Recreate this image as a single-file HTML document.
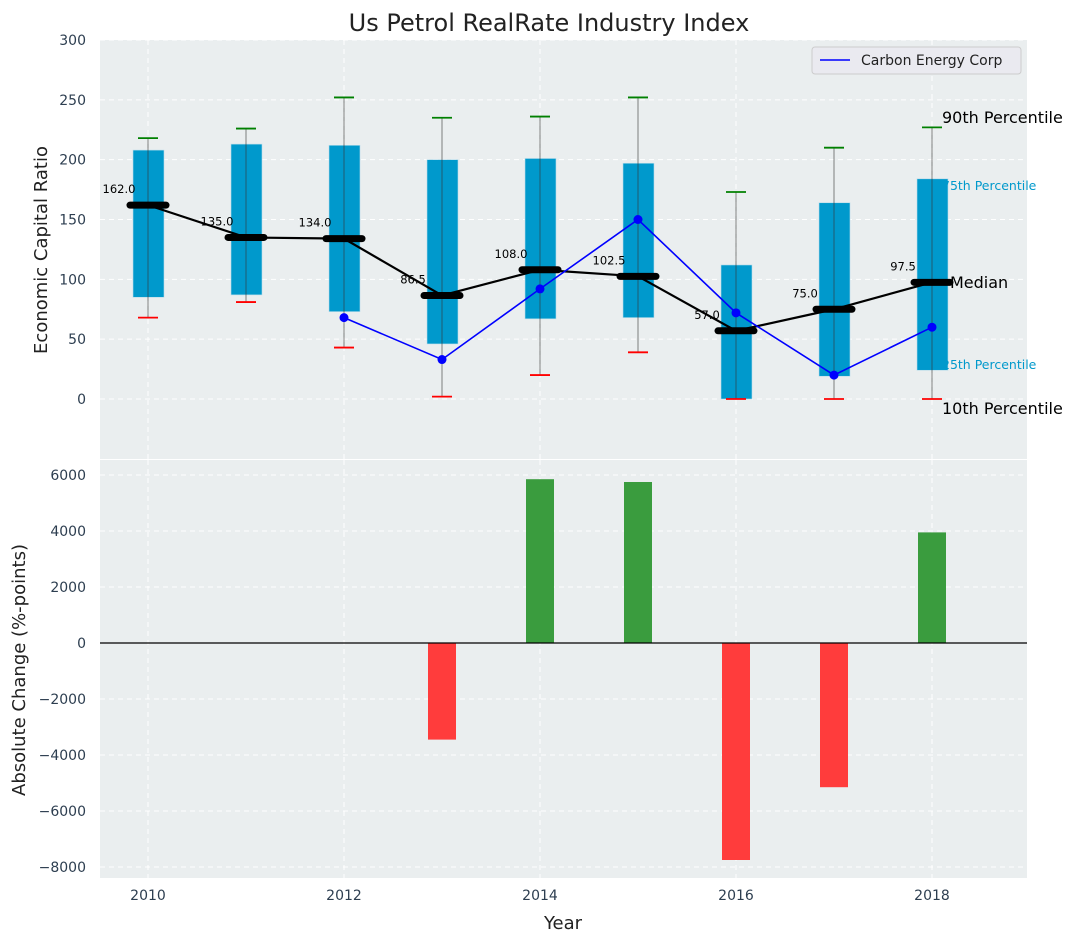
<!DOCTYPE html>
<html><head><meta charset="utf-8"><style>
body{margin:0;background:#fff;}
svg{display:block;font-family:"DejaVu Sans","Liberation Sans",sans-serif;}
</style></head><body>
<svg id="c" width="1077" height="942"></svg>
<script>
const years=[2010,2011,2012,2013,2014,2015,2016,2017,2018];
const q25=[85,87,73,46,67,68,0,19,24];
const q75=[208,213,212,200,201,197,112,164,184];
const p10=[68,81,43,2,20,39,0,0,0];
const p90=[218,226,252,235,236,252,173,210,227];
const medians=[162,135,134,86.5,108,102.5,57,75,97.5];
const carbonYears=[2012,2013,2014,2015,2016,2017,2018];
const carbonVals=[68,33,92,150,72,20,60];
const changeYears=[2013,2014,2015,2016,2017,2018];
const changeVals=[-3450,5850,5750,-7750,-5150,3950];
const topTicks=[0,50,100,150,200,250,300];
const botTicks=[-8000,-6000,-4000,-2000,0,2000,4000,6000];
const xTicks=[2010,2012,2014,2016,2018];

const NS="http://www.w3.org/2000/svg";
const svg=document.getElementById('c');
function el(t,a,p){const e=document.createElementNS(NS,t);for(const k in a)e.setAttribute(k,a[k]);(p||svg).appendChild(e);return e;}
const L=100,R=1027,T1=40,B1=459,T2=460,B2=878;
const x=v=>148+(v-2010)*98;
const y1=v=>399-v*(359/300);
const y2=v=>643-v*(168/6000);

// backgrounds
let bg=el('rect',{x:L,y:T1,width:R-L,height:B1-T1,fill:'#eaeeef'});

let bg2=el('rect',{x:L,y:T2,width:R-L,height:B2-T2,fill:'#eaeeef'});

// grids
xTicks.forEach(v=>{
 el('line',{x1:x(v),x2:x(v),y1:T1,y2:B1,stroke:'#fff','stroke-dasharray':'5,4','stroke-width':1});
 el('line',{x1:x(v),x2:x(v),y1:T2,y2:B2,stroke:'#fff','stroke-dasharray':'5,4','stroke-width':1});
 const t=el('text',{x:x(v),y:900,'text-anchor':'middle','font-size':14,fill:'#2d3e50'});t.textContent=v;
 
});
topTicks.forEach(v=>{
 el('line',{x1:L,x2:R,y1:y1(v),y2:y1(v),stroke:'#fff','stroke-dasharray':'5,4','stroke-width':1});
 const t=el('text',{x:86,y:y1(v)+5,'text-anchor':'end','font-size':14,fill:'#2d3e50'});t.textContent=v;
 
});
botTicks.forEach(v=>{
 el('line',{x1:L,x2:R,y1:y2(v),y2:y2(v),stroke:'#fff','stroke-dasharray':'5,4','stroke-width':1});
 const t=el('text',{x:86,y:y2(v)+5,'text-anchor':'end','font-size':14,fill:'#2d3e50'});t.textContent=v<0?'\u2212'+(-v):v;
 
});
// boxes
years.forEach((yr,i)=>{
 const cx=x(yr);
 const b=el('rect',{x:cx-15,y:y1(q75[i]),width:31,height:y1(q25[i])-y1(q75[i]),fill:'#0099cc',stroke:'#b8dcea','stroke-width':0.6});
 
 const w=el('line',{x1:cx,x2:cx,y1:y1(p90[i]),y2:y1(p10[i]),stroke:'#333','stroke-opacity':0.5,'stroke-width':1.2});
 
 const c1=el('line',{x1:cx-10,x2:cx+10,y1:y1(p90[i]),y2:y1(p90[i]),stroke:'green','stroke-width':1.8});
 
 const c2=el('line',{x1:cx-10,x2:cx+10,y1:y1(p10[i]),y2:y1(p10[i]),stroke:'red','stroke-width':1.8});
 
});
// median line
const mp=el('polyline',{points:years.map((yr,i)=>x(yr)+','+y1(medians[i])).join(' '),fill:'none',stroke:'#000','stroke-width':2.2});

years.forEach((yr,i)=>{
 const cx=x(yr),cy=y1(medians[i]);
 const m=el('line',{x1:cx-18,x2:cx+18,y1:cy,y2:cy,stroke:'#000','stroke-width':7,'stroke-linecap':'round'});
 
 const t=el('text',{x:cx-29,y:cy-12,'text-anchor':'middle','font-size':11.5,fill:'#000'});t.textContent=medians[i].toFixed(1);
 
});
// carbon line
const cl=el('polyline',{points:carbonYears.map((yr,i)=>x(yr)+','+y1(carbonVals[i])).join(' '),fill:'none',stroke:'blue','stroke-width':1.6});

carbonYears.forEach((yr,i)=>{
 const p=el('circle',{cx:x(yr),cy:y1(carbonVals[i]),r:4.5,fill:'blue'});
 
});
// annotations
const ann=[['90th Percentile',942,123,16,'#000'],['75th Percentile',942,190,12.5,'#0099cc'],['Median',950,288,16,'#000'],['25th Percentile',942,369,12.5,'#0099cc'],['10th Percentile',942,414,16,'#000']];
ann.forEach(a=>{const t=el('text',{x:a[1],y:a[2],'font-size':a[3],fill:a[4]});t.textContent=a[0];
 });
// bars
changeYears.forEach((yr,i)=>{
 const v=changeVals[i];const top=Math.min(y2(v),y2(0));
 const r=el('rect',{x:x(yr)-14,y:top,width:28,height:Math.abs(y2(v)-y2(0)),fill:v>=0?'#3a9c3e':'#ff3c3c'});
 
});
el('line',{x1:L,x2:R,y1:y2(0),y2:y2(0),stroke:'#000','stroke-width':1.2});
// legend
const lg=el('g',{});
el('rect',{x:812,y:47,width:209,height:27,rx:3,fill:'#eaeaf0',stroke:'#ccc'},lg);
el('line',{x1:820,x2:850,y1:60,y2:60,stroke:'blue','stroke-width':1.6},lg);
const lt=el('text',{x:861,y:65,'font-size':14,fill:'#222'},lg);lt.textContent='Carbon Energy Corp';
// titles
let t=el('text',{x:549,y:31,'text-anchor':'middle','font-size':24,fill:'#222'});t.textContent='Us Petrol RealRate Industry Index';

t=el('text',{x:0,y:0,'text-anchor':'middle','font-size':18,fill:'#222',transform:'translate(47,250) rotate(-90)'});t.textContent='Economic Capital Ratio';

t=el('text',{x:0,y:0,'text-anchor':'middle','font-size':18,fill:'#222',transform:'translate(25,670) rotate(-90)'});t.textContent='Absolute Change (%-points)';

t=el('text',{x:563,y:929,'text-anchor':'middle','font-size':18,fill:'#222'});t.textContent='Year';

</script>
</body></html>
